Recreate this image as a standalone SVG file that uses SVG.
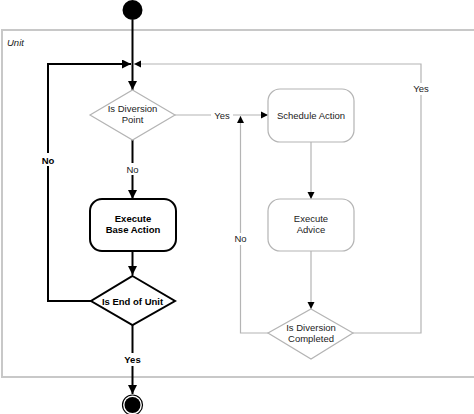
<svg xmlns="http://www.w3.org/2000/svg" width="474" height="414" viewBox="0 0 474 414">
<style>
.frame{fill:none;stroke:#c8c8c8;stroke-width:2}
.bk{fill:none;stroke:#000;stroke-width:2}
.gy{fill:none;stroke:#b4b4b4;stroke-width:1.2}
.t{font-family:"Liberation Sans",Arial,sans-serif;font-size:9.5px;fill:#222;text-anchor:middle}
.b{font-weight:bold;fill:#000}
.lbl{fill:#fff;stroke:none}
</style>
<defs>
<marker id="ab" viewBox="0 0 10 10" refX="10" refY="5" markerWidth="4.5" markerHeight="4.5" orient="auto" markerUnits="strokeWidth"><path d="M0,0 L10,5 L0,10 Z" fill="#000"/></marker>
<marker id="ag" viewBox="0 0 10 10" refX="10" refY="5" markerWidth="6" markerHeight="6" orient="auto" markerUnits="strokeWidth"><path d="M0,0 L10,5 L0,10 Z" fill="#000"/></marker>
</defs>
<rect x="2" y="30" width="480" height="347" class="frame"/>
<text x="7" y="46" class="t" style="text-anchor:start;font-style:italic">Unit</text>
<g id="connectors">
<line x1="132.5" y1="20" x2="132.5" y2="90" class="bk" marker-end="url(#ab)"/>
<polyline points="91,301 48,301 48,64 131,64" class="bk" marker-end="url(#ab)"/>
<polyline points="353,333 421,333 421,64 134,64" class="gy" marker-end="url(#ag)"/>
<line x1="132.5" y1="140" x2="132.5" y2="199" class="bk" marker-end="url(#ab)"/>
<line x1="132.5" y1="251" x2="132.5" y2="275" class="bk" marker-end="url(#ab)"/>
<line x1="132.5" y1="325" x2="132.5" y2="394" class="bk" marker-end="url(#ab)"/>
<line x1="175" y1="115" x2="268" y2="115" class="gy" marker-end="url(#ag)"/>
<polyline points="268,333 240.5,333 240.5,116" class="gy" marker-end="url(#ag)"/>
<line x1="311" y1="142" x2="311" y2="199" class="gy" marker-end="url(#ag)"/>
<line x1="311" y1="251" x2="311" y2="309" class="gy" marker-end="url(#ag)"/>
<rect x="39" y="153" width="18" height="13" class="lbl"/>
<text x="48" y="164" class="t b">No</text>
<rect x="123" y="163" width="19" height="12" class="lbl"/>
<text x="132.5" y="173" class="t">No</text>
<rect x="121" y="353" width="23" height="13" class="lbl"/>
<text x="132.5" y="363" class="t b">Yes</text>
<rect x="211" y="110" width="22" height="11" class="lbl"/>
<text x="222" y="118.5" class="t">Yes</text>
<rect x="231" y="233" width="19" height="12" class="lbl"/>
<text x="240.5" y="242" class="t">No</text>
<rect x="411" y="83" width="21" height="12" class="lbl"/>
<text x="421" y="92" class="t">Yes</text>
</g>
<g id="start"><circle cx="132.5" cy="10" r="10" fill="#000"/></g>
<g id="isDiversionPoint">
<polygon points="132.5,90 175,115 132.5,140 90,115" fill="#fff" class="gy"/>
<text x="132.5" y="112" class="t">Is Diversion</text>
<text x="132.5" y="123" class="t">Point</text>
</g>
<g id="executeBaseAction">
<rect x="90" y="199" width="86" height="52" rx="12" fill="#fff" class="bk"/>
<text x="133" y="222" class="t b">Execute</text>
<text x="133" y="233" class="t b">Base Action</text>
</g>
<g id="isEndOfUnit">
<polygon points="132.5,276 175,301 132.5,325 91,301" fill="#fff" class="bk"/>
<text x="132.5" y="304.5" class="t b">Is End of Unit</text>
</g>
<g id="end">
<circle cx="132.5" cy="405" r="10" fill="#fff" stroke="#000" stroke-width="1.2"/>
<circle cx="132.5" cy="405" r="8" fill="#000"/>
</g>
<g id="scheduleAction">
<rect x="268" y="89" width="86" height="53" rx="12" fill="#fff" class="gy"/>
<text x="311" y="119" class="t">Schedule Action</text>
</g>
<g id="executeAdvice">
<rect x="268" y="199" width="86" height="52" rx="12" fill="#fff" class="gy"/>
<text x="311" y="222" class="t">Execute</text>
<text x="311" y="233" class="t">Advice</text>
</g>
<g id="isDiversionCompleted">
<polygon points="311,309 353,333 311,359 268,333" fill="#fff" class="gy"/>
<text x="311" y="331" class="t">Is Diversion</text>
<text x="311" y="342" class="t">Completed</text>
</g>
</svg>
